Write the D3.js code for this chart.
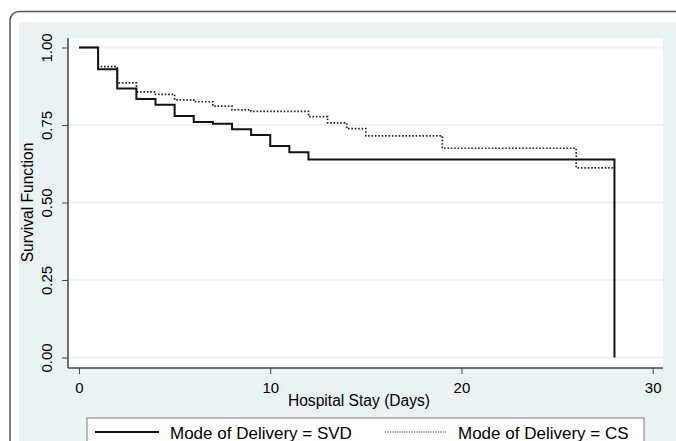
<!DOCTYPE html>
<html><head><meta charset="utf-8">
<script src="https://cdn.jsdelivr.net/npm/d3@7"></script>
<style>body{margin:0;background:#fff}svg{display:block;font-family:"Liberation Sans",Arial,sans-serif}</style>
</head><body><svg id="c" width="676" height="441"></svg>
<script>
const svdDays = [0,1,2,3,4,5,6,7,8,9,10,11,12,28];
const svdSurv = [1,0.930,0.868,0.834,0.815,0.779,0.760,0.754,0.736,0.718,0.682,0.662,0.639,0];
const csDays = [0,1,2,3,4,5,6,7,8,9,12,13,14,15,19,26,28];
const csSurv = [1,0.938,0.886,0.857,0.849,0.831,0.825,0.811,0.799,0.794,0.777,0.757,0.738,0.715,0.675,0.612,0.612];
const xTicks = [0,10,20,30];
const yTicks = [0,0.25,0.5,0.75,1];
const yTickLabels = ["0.00","0.25","0.50","0.75","1.00"];
const legendLabels = ["Mode of Delivery = SVD","Mode of Delivery = CS"];

const svg = d3.select("#c");
const bg = "#eaf2f3";
const ff = "Liberation Sans, Arial, sans-serif";
// outer frame
svg.append("rect").attr("x",10).attr("y",11.5).attr("width",720).attr("height",480).attr("rx",9)
  .attr("fill","#fff").attr("stroke","#555").attr("stroke-width",1.5);
svg.append("rect").attr("x",19).attr("y",22).attr("width",700).attr("height",460).attr("fill",bg);

const x = d3.scaleLinear().domain([0,30]).range([79,652.7]);
const y = d3.scaleLinear().domain([0,1]).range([357.5,47.5]);
const pl = 68, pr = 663, pt = 38, pb = 368;
svg.append("rect").attr("x",pl).attr("y",pt).attr("width",pr-pl).attr("height",pb-pt).attr("fill","#fff");
// gridlines
svg.append("g").selectAll("line").data(yTicks).join("line")
  .attr("x1",pl).attr("x2",pr).attr("y1",d=>y(d)).attr("y2",d=>y(d))
  .attr("stroke",bg).attr("stroke-width",2);

// axes
const yAxis = d3.axisLeft(y).tickValues(yTicks).tickFormat((d,i)=>yTickLabels[i]).tickSize(6).tickSizeOuter(0);
const gy = svg.append("g").attr("transform",`translate(${pl},0)`).call(yAxis);
gy.select(".domain").attr("d",`M0,${pt}V${pb}`).attr("stroke","#444").attr("stroke-width",1.5);
gy.selectAll(".tick line").attr("stroke","#444");
gy.selectAll(".tick text").attr("font-size",15).attr("fill","#000").attr("font-family",ff)
  .attr("text-anchor","middle").attr("dy",0)
  .attr("transform","translate(-16,0) rotate(-90)").attr("x",0).attr("y",0);

const xAxis = d3.axisBottom(x).tickValues(xTicks).tickFormat(d3.format("d")).tickSize(6).tickSizeOuter(0);
const gx = svg.append("g").attr("transform",`translate(0,${pb})`).call(xAxis);
gx.select(".domain").attr("d",`M${pl},0H${pr}`).attr("stroke","#444").attr("stroke-width",1.5);
gx.selectAll(".tick line").attr("stroke","#444");
gx.selectAll(".tick text").attr("font-size",15).attr("fill","#000").attr("font-family",ff).attr("y",24.5).attr("dy",0);

svg.append("text").attr("x",359).attr("y",406).attr("text-anchor","middle")
  .attr("font-size",15.6).attr("fill","#000").text("Hospital Stay (Days)");
svg.append("text").attr("transform",`translate(33,${(y(0)+y(1))/2}) rotate(-90)`).attr("text-anchor","middle")
  .attr("font-size",15.6).attr("fill","#000").text("Survival Function");

// step lines
const line = d3.line().x(d=>x(d[0])).y(d=>y(d[1])).curve(d3.curveStepAfter);
const csData = csDays.map((d,i)=>[d,csSurv[i]]);
const svdData = svdDays.map((d,i)=>[d,svdSurv[i]]);
svg.append("path").datum(csData).attr("d",line).attr("fill","none").attr("stroke","#222")
  .attr("stroke-width",1.7).attr("stroke-dasharray","1.6,1.8");
svg.append("path").datum(svdData).attr("d",line).attr("fill","none").attr("stroke","#111")
  .attr("stroke-width",2);

// legend
svg.append("rect").attr("x",87).attr("y",418).attr("width",557).attr("height",40)
  .attr("fill","#fff").attr("stroke","#777").attr("stroke-width",1);
svg.append("line").attr("x1",95).attr("x2",159).attr("y1",432).attr("y2",432).attr("stroke","#111").attr("stroke-width",2);
svg.append("line").attr("x1",385).attr("x2",446).attr("y1",432).attr("y2",432).attr("stroke","#333").attr("stroke-width",1.2).attr("stroke-dasharray","1.2,1.2");
svg.append("text").attr("x",170).attr("y",438.5).attr("font-size",17).attr("fill","#000").text(legendLabels[0]);
svg.append("text").attr("x",458).attr("y",438.5).attr("font-size",17).attr("fill","#000").text(legendLabels[1]);
</script></body></html>
